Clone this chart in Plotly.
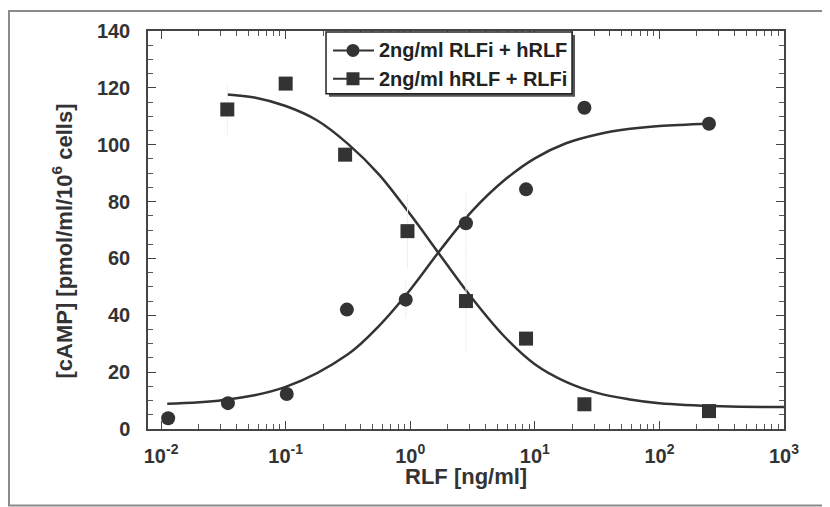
import plotly.graph_objects as go

# Data
circ_x = [0.0114, 0.0344, 0.102, 0.31, 0.92, 2.8, 8.5, 25, 250]
circ_y = [3.8, 9.1, 12.3, 42.0, 45.5, 72.4, 84.3, 113.0, 107.4]
circ_err = [0, 0, 0, 0, 6.5, 10.6, 0, 0, 0]

sq_x = [0.034, 0.1, 0.3, 0.95, 2.8, 8.5, 25, 250]
sq_y = [112.4, 121.5, 96.5, 69.6, 45.0, 31.8, 8.7, 6.3]
sq_err = [9, 0, 0, 13, 18, 0, 0, 0]

# Fitted curves
fit_up_x = [0.0112, 0.0316, 0.1, 0.316, 0.562, 1.0, 1.78, 3.16, 5.62, 10, 17.8, 31.6, 56.2, 100, 250]
fit_up_y = [8.9, 10.2, 14.8, 26.3, 36.3, 49.0, 63.5, 76.8, 87.3, 95.2, 100.5, 103.6, 105.5, 106.6, 107.4]

fit_dn_x = [0.0339, 0.0562, 0.1, 0.178, 0.316, 0.562, 1.0, 1.78, 3.16, 5.62, 10, 17.8, 31.6, 56.2, 100, 316, 1000]
fit_dn_y = [117.7, 116.6, 113.6, 108.6, 100.3, 89.5, 75.5, 60.5, 45.8, 32.8, 22.8, 16.6, 12.7, 10.5, 9.1, 8.0, 7.7]

x_tickvals = [0.01, 0.1, 1, 10, 100, 1000]
x_ticktext = ["10<sup>-2</sup>", "10<sup>-1</sup>", "10<sup>0</sup>", "10<sup>1</sup>", "10<sup>2</sup>", "10<sup>3</sup>"]
x_minor = [m * d for d in [0.01, 0.1, 1, 10, 100] for m in range(2, 10)]

legend_names = ["2ng/ml RLFi + hRLF", "2ng/ml hRLF + RLFi"]

INK = "#333333"
FONT = "Liberation Sans, Arial, sans-serif"

fig = go.Figure()

fig.add_trace(go.Scatter(x=fit_up_x, y=fit_up_y, mode="lines", line=dict(color=INK, width=2.5, shape="spline"),
                         showlegend=False, hoverinfo="skip"))
fig.add_trace(go.Scatter(x=fit_dn_x, y=fit_dn_y, mode="lines", line=dict(color=INK, width=2.5, shape="spline"),
                         showlegend=False, hoverinfo="skip"))

fig.add_trace(go.Scatter(x=circ_x, y=circ_y, mode="markers", name=legend_names[0],
                         marker=dict(symbol="circle", size=14, color=INK),
                         error_y=dict(type="data", array=circ_err, color="#efefef", thickness=1, width=0),
                         showlegend=False))
fig.add_trace(go.Scatter(x=sq_x, y=sq_y, mode="markers", name=legend_names[1],
                         marker=dict(symbol="square", size=14, color=INK),
                         error_y=dict(type="data", array=sq_err, color="#efefef", thickness=1, width=0),
                         showlegend=False))

fig.update_layout(
    width=830, height=507,
    margin=dict(l=140, r=54, t=21, b=86),
    paper_bgcolor="white", plot_bgcolor="white",
    font=dict(family=FONT, size=18, color=INK),
    showlegend=False,
)

fig.update_xaxes(
    type="log", range=[-2.105, 3.0],
    tickmode="array", tickvals=x_tickvals, ticktext=x_ticktext,
    ticks="inside", ticklen=8, tickwidth=1.2, tickcolor="#444",
    showline=True, linecolor="#444", linewidth=1.5, mirror="ticks",
    showgrid=False, zeroline=False, ticklabelstandoff=8,
    tickfont=dict(family=FONT, size=20, color=INK, weight="bold"),
    minor=dict(tickmode="array", tickvals=x_minor, ticks="inside", ticklen=5, tickwidth=1, tickcolor="#555", showgrid=False),
)

fig.update_yaxes(
    range=[0, 140], dtick=20, tick0=0,
    ticks="inside", ticklen=8, tickwidth=1.2, tickcolor="#444",
    showline=True, linecolor="#444", linewidth=1.5, mirror="ticks",
    showgrid=False, zeroline=False, ticklabelstandoff=12,
    tickfont=dict(family=FONT, size=20, color=INK, weight="bold"),
    minor=dict(dtick=5, ticks="inside", ticklen=5, tickwidth=1, tickcolor="#555", showgrid=False),
)

fig.add_annotation(
    text="[cAMP] [pmol/ml/10<sup>6</sup> cells]", textangle=-90,
    xref="paper", yref="paper", x=-0.1352, y=0.471, xanchor="center", yanchor="middle",
    showarrow=False, font=dict(family=FONT, size=22, color=INK, weight="bold"),
)
fig.add_annotation(
    text="RLF [ng/ml]",
    xref="paper", yref="paper", x=0.5, y=-0.12, xanchor="center", yanchor="middle",
    showarrow=False, font=dict(family=FONT, size=22, color=INK, weight="bold"),
)

# outer frame
fig.add_shape(type="rect", xref="paper", yref="paper",
              x0=-0.2186, x1=1.2, y0=-0.1925, y1=1.05,
              line=dict(color="#8a8a8a", width=2), fillcolor="rgba(0,0,0,0)", layer="below")

# legend box (drawn by hand to match the reference's compact rows)
fig.add_shape(type="rect", xref="paper", yref="paper", x0=0.2846, x1=0.6714, y0=0.835, y1=0.99,
              line=dict(width=0), fillcolor="#555555", layer="above")
fig.add_shape(type="rect", xref="paper", yref="paper", x0=0.2799, x1=0.6667, y0=0.8425, y1=0.9975,
              line=dict(color="#222222", width=1.5), fillcolor="white", layer="above")

legend_rows_y = [0.95125, 0.88]
legend_symbols = ["circle", "rect"]
for name, ry, sym in zip(legend_names, legend_rows_y, legend_symbols):
    fig.add_shape(type="line", xref="paper", yref="paper", x0=0.2909, x1=0.3553, y0=ry, y1=ry,
                  line=dict(color=INK, width=2), layer="above")
    fig.add_shape(type=sym, xref="paper", yref="paper", xsizemode="pixel", ysizemode="pixel",
                  xanchor=0.3223, yanchor=ry, x0=-6.5, x1=6.5, y0=-6.5, y1=6.5,
                  line=dict(width=0), fillcolor=INK, layer="above")
    fig.add_annotation(text=name, xref="paper", yref="paper", x=0.3601, y=ry,
                       xanchor="left", yanchor="middle", showarrow=False,
                       font=dict(family=FONT, size=20, color="#222222", weight="bold"))

fig.write_html("out.html")
